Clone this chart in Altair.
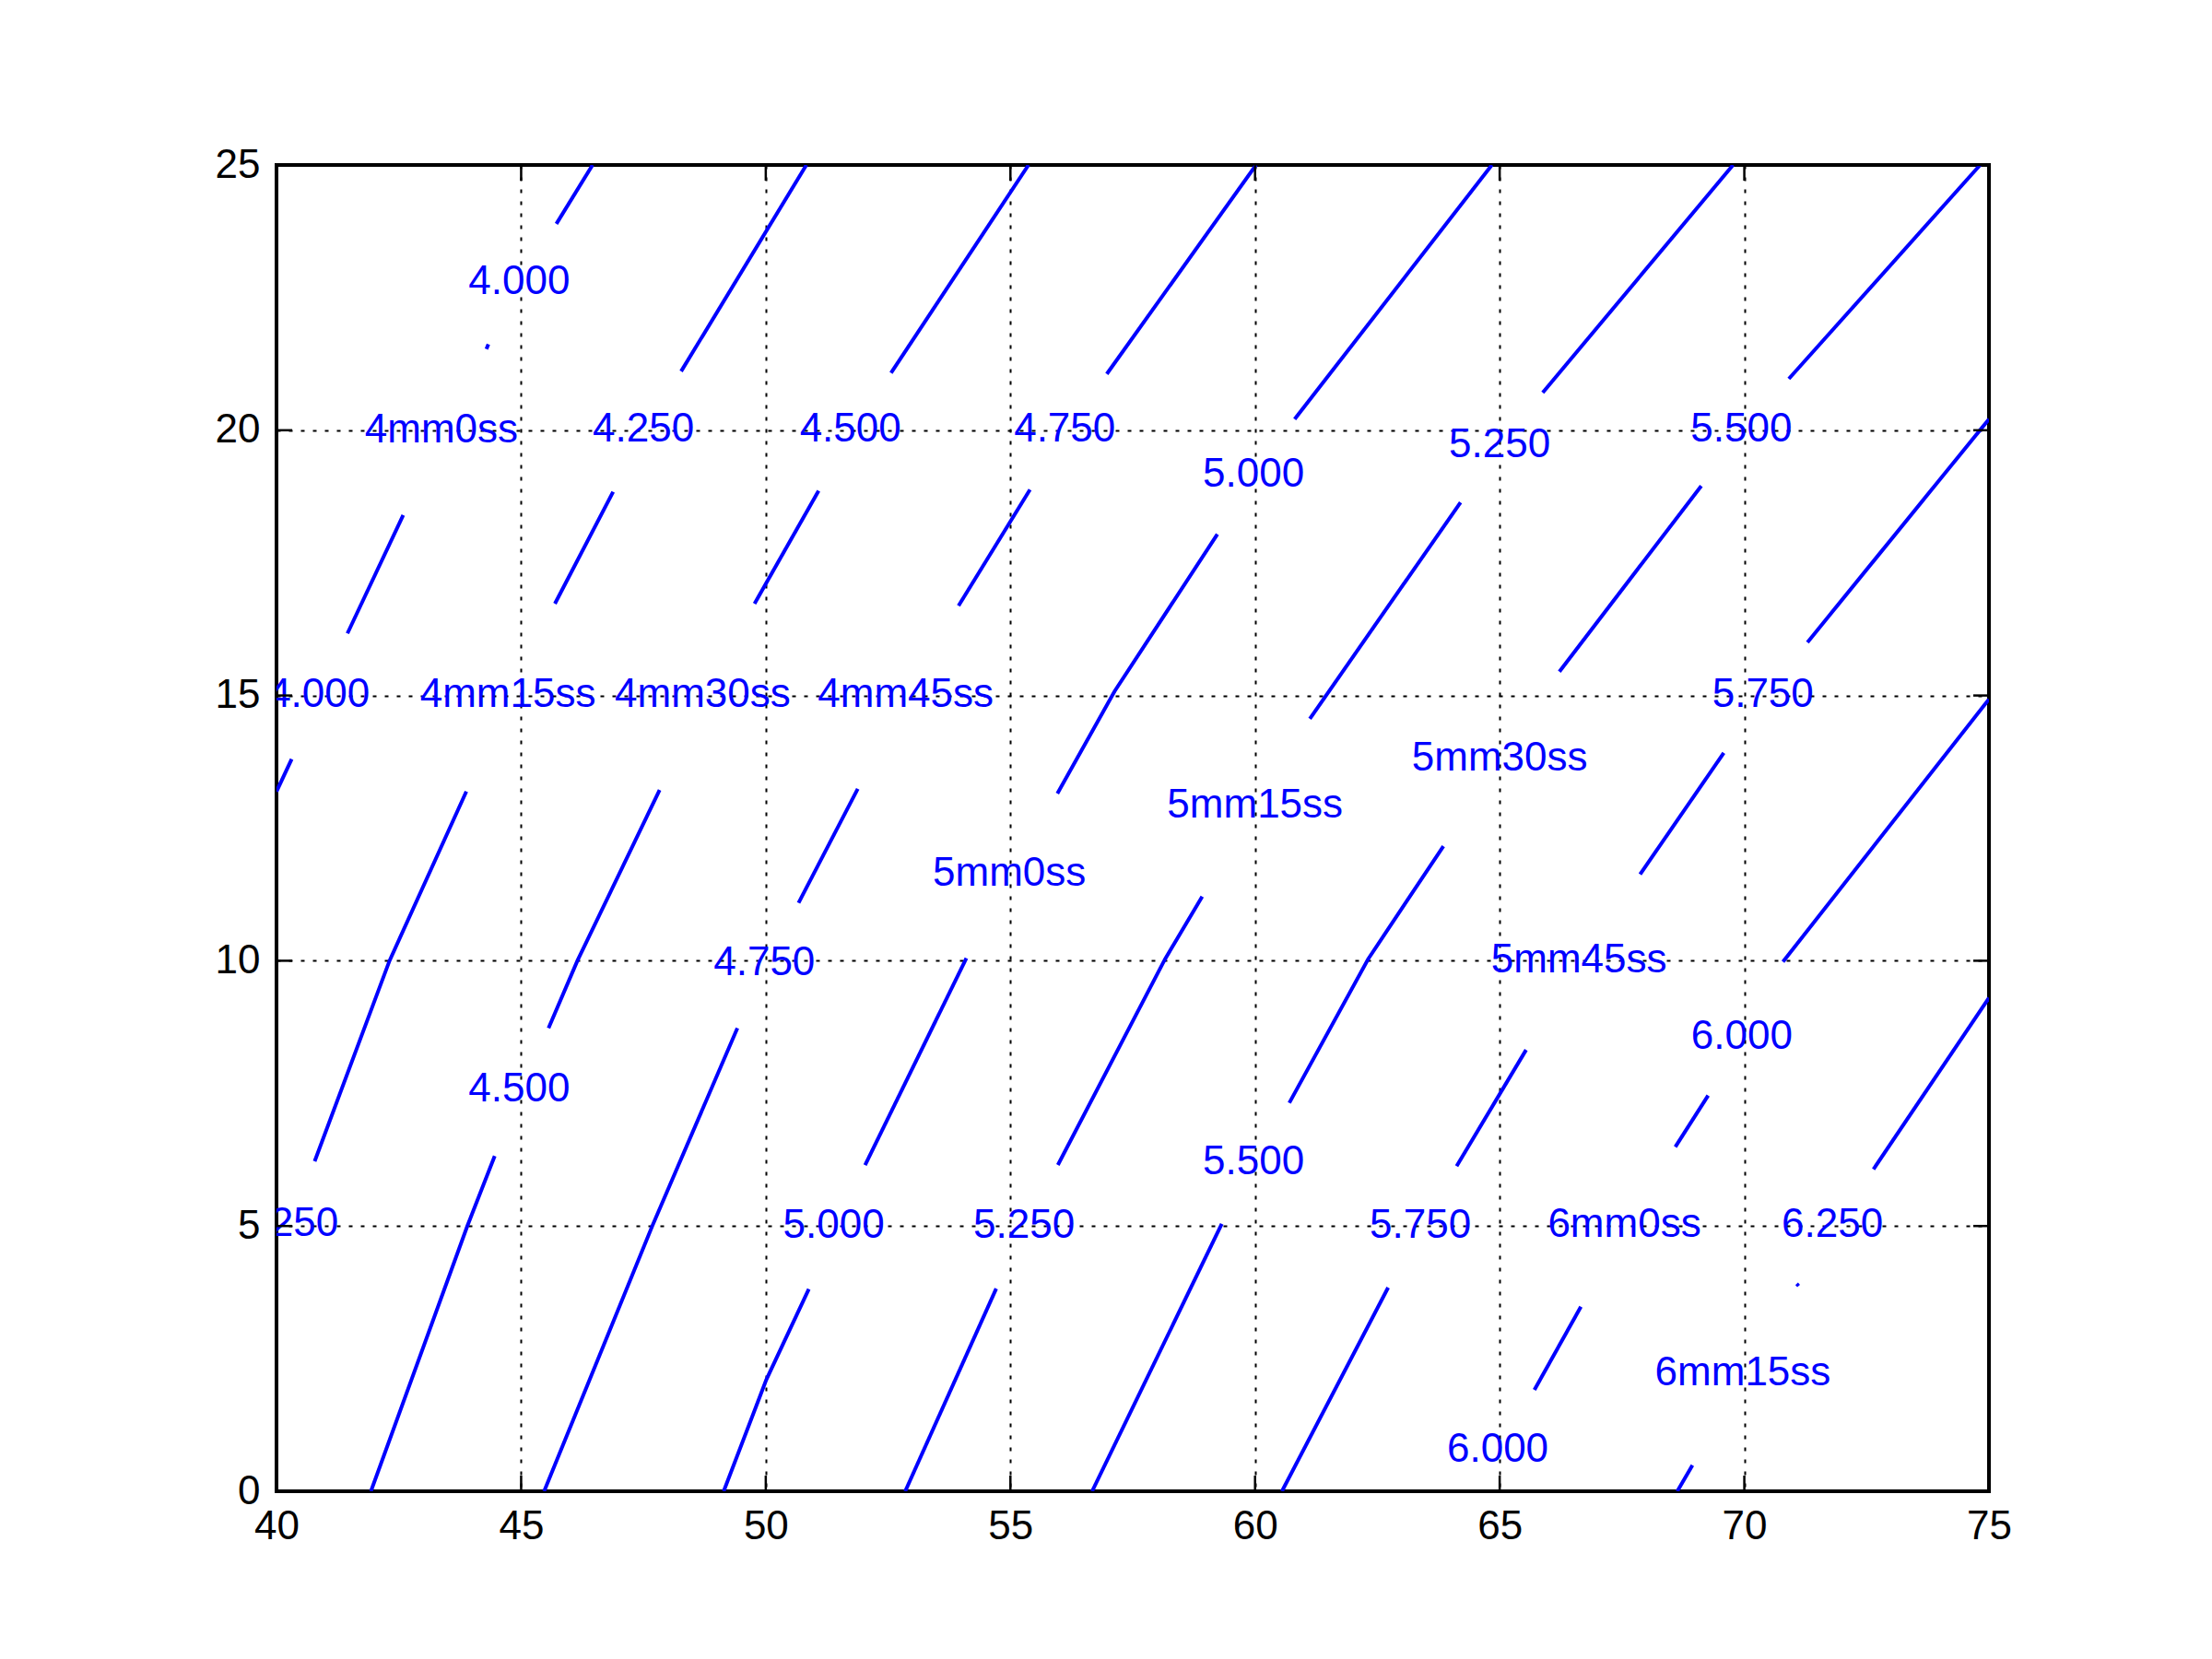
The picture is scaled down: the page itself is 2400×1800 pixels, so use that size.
import altair as alt
import pandas as pd

# ---- contour segments (data coords), per level, gaps where labels sit ----
level_400 = [
    [(46.46, 25.0), (45.72, 23.89)],
    [(44.29, 21.53), (44.33, 21.62)],
    [(42.59, 18.40), (41.45, 16.17)],
    [(40.31, 13.80), (40.0, 13.19)],
]
level_425 = [
    [(50.83, 25.0), (48.27, 21.11)],
    [(46.88, 18.84), (45.69, 16.73)],
    [(43.88, 13.19), (42.31, 10.0), (40.78, 6.22)],
]
level_450 = [
    [(55.37, 25.0), (52.56, 21.08)],
    [(51.08, 18.86), (49.77, 16.73)],
    [(47.83, 13.22), (46.15, 10.0), (45.56, 8.73)],
    [(44.46, 6.32), (43.9, 5.0), (41.93, 0.0)],
]
level_475 = [
    [(60.02, 25.0), (56.97, 21.06)],
    [(55.40, 18.88), (53.94, 16.69)],
    [(51.88, 13.24), (50.67, 11.09)],
    [(49.42, 8.73), (47.68, 5.0), (45.47, 0.0)],
]
level_500 = [
    [(64.84, 25.0), (60.81, 20.21)],
    [(59.23, 18.04), (57.13, 15.08), (55.96, 13.15)],
    [(54.10, 10.05), (52.03, 6.15)],
    [(50.88, 3.81), (50.01, 2.10), (49.14, 0.0)],
]
level_525 = [
    [(69.77, 25.0), (65.88, 20.71)],
    [(64.20, 18.64), (61.12, 14.56)],
    [(58.92, 11.21), (58.16, 10.03), (55.97, 6.15)],
    [(54.71, 3.82), (52.85, 0.0)],
]
level_550 = [
    [(74.82, 25.0), (70.91, 20.97)],
    [(69.12, 18.95), (66.22, 15.45)],
    [(63.85, 12.16), (62.31, 10.03), (60.70, 7.32)],
    [(59.32, 5.04), (56.67, 0.0)],
]
level_575 = [
    [(75.0, 20.21), (71.29, 16.0)],
    [(69.58, 13.92), (67.87, 11.63)],
    [(65.54, 8.32), (64.12, 6.13)],
    [(62.72, 3.84), (60.55, 0.0)],
]
level_600 = [
    [(75.0, 14.93), (70.79, 9.98)],
    [(69.26, 7.46), (68.59, 6.49)],
    [(66.66, 3.48), (65.71, 1.91)],
]
level_625 = [
    [(75.0, 9.30), (72.64, 6.07)],
    [(71.07, 3.91), (71.11, 3.87)],
    [(68.94, 0.49), (68.63, 0.0)],
]
levels = [level_400, level_425, level_450, level_475, level_500,
          level_525, level_550, level_575, level_600, level_625]

# ---- inline contour labels ----
label_text = ["4.000", "4mm0ss", "4.250", "4.500", "4.750", "5.000", "5.250", "5.500",
              "4.000", "4mm15ss", "4mm30ss", "4mm45ss", "5.750", "5mm30ss", "5mm15ss",
              "5mm0ss", "4.750", "5mm45ss", "6.000", "4.500", "5.500", "4.250", "5.000",
              "5.250", "5.750", "6mm0ss", "6.250", "6mm15ss", "6.000"]
label_x = [44.96, 43.37, 47.50, 51.73, 56.11, 59.97, 65.0, 69.94,
           40.87, 44.73, 48.71, 52.86, 70.38, 65.0, 60.0,
           54.98, 49.97, 66.62, 69.95, 44.96, 59.97, 40.23, 51.39,
           55.28, 63.38, 67.55, 71.80, 69.97, 64.96]
label_y = [22.84, 20.05, 20.07, 20.07, 20.07, 19.22, 19.77, 20.07,
           15.07, 15.06, 15.06, 15.06, 15.07, 13.87, 12.97,
           11.70, 10.01, 10.06, 8.62, 7.62, 6.26, 5.09, 5.06,
           5.06, 5.06, 5.07, 5.07, 2.27, 0.84]

x_ticks = [40, 45, 50, 55, 60, 65, 70, 75]
y_ticks = [0, 5, 10, 15, 20, 25]

# ---- build tables ----
rows = []
sid = 0
for lv in levels:
    for seg in lv:
        for i, (px, py) in enumerate(seg):
            rows.append({"seg": sid, "idx": i, "x": px, "y": py})
        sid += 1
df_lines = pd.DataFrame(rows)
df_labels = pd.DataFrame({"label": label_text, "x": label_x, "y": label_y})
df_xt = pd.DataFrame({"t": x_ticks})
df_yt = pd.DataFrame({"t": y_ticks})

W, H = 1858, 1439
FONT = "Liberation Sans"
FS = 44
BLUE = "#0000ff"

xscale = alt.Scale(domain=[40, 75], nice=False, zero=False)
yscale = alt.Scale(domain=[0, 25], nice=False, zero=False)

xaxis = alt.Axis(values=x_ticks, grid=True, gridColor="black", gridDash=[4, 9],
                 gridWidth=2, gridOpacity=1, domain=False, ticks=False,
                 labelFont=FONT, labelFontSize=FS, labelColor="black",
                 labelPadding=16, labelFlush=False, labelOverlap=False,
                 format="d", title=None)
yaxis = alt.Axis(values=y_ticks, grid=True, gridColor="black", gridDash=[4, 9],
                 gridWidth=2, gridOpacity=1, domain=False, ticks=False,
                 labelFont=FONT, labelFontSize=FS, labelColor="black",
                 labelPadding=18, labelFlush=False, labelOverlap=False,
                 format="d", title=None)

lines = alt.Chart(df_lines).mark_line(color=BLUE, strokeWidth=4, clip=True,
                                      strokeCap="butt").encode(
    x=alt.X("x:Q", scale=xscale, axis=xaxis),
    y=alt.Y("y:Q", scale=yscale, axis=yaxis),
    detail="seg:N",
    order="idx:Q",
)

labels = alt.Chart(df_labels).mark_text(color=BLUE, font=FONT, fontSize=FS,
                                        align="center", baseline="middle",
                                        dy=3, clip=True).encode(
    x=alt.X("x:Q", scale=xscale, axis=xaxis),
    y=alt.Y("y:Q", scale=yscale, axis=yaxis),
    text="label:N",
)

TL = 17
tick_style = dict(color="black", strokeWidth=2.5)
xt_bottom = alt.Chart(df_xt).mark_rule(**tick_style).encode(
    x=alt.X("t:Q", scale=xscale, axis=xaxis), y=alt.value(H), y2=alt.value(H - TL))
xt_top = alt.Chart(df_xt).mark_rule(**tick_style).encode(
    x=alt.X("t:Q", scale=xscale, axis=xaxis), y=alt.value(0), y2=alt.value(TL))
yt_left = alt.Chart(df_yt).mark_rule(**tick_style).encode(
    y=alt.Y("t:Q", scale=yscale, axis=yaxis), x=alt.value(0), x2=alt.value(TL))
yt_right = alt.Chart(df_yt).mark_rule(**tick_style).encode(
    y=alt.Y("t:Q", scale=yscale, axis=yaxis), x=alt.value(W), x2=alt.value(W - TL))

chart = alt.layer(lines, labels, xt_bottom, xt_top, yt_left, yt_right).properties(
    width=W, height=H,
    autosize=alt.AutoSizeParams(type="none"),
    padding={"left": 292, "top": 171, "right": 234, "bottom": 174},
    background="white",
).configure_view(stroke="black", strokeWidth=4)

chart.save("out.html", embed_options={"renderer": "svg", "actions": False})
